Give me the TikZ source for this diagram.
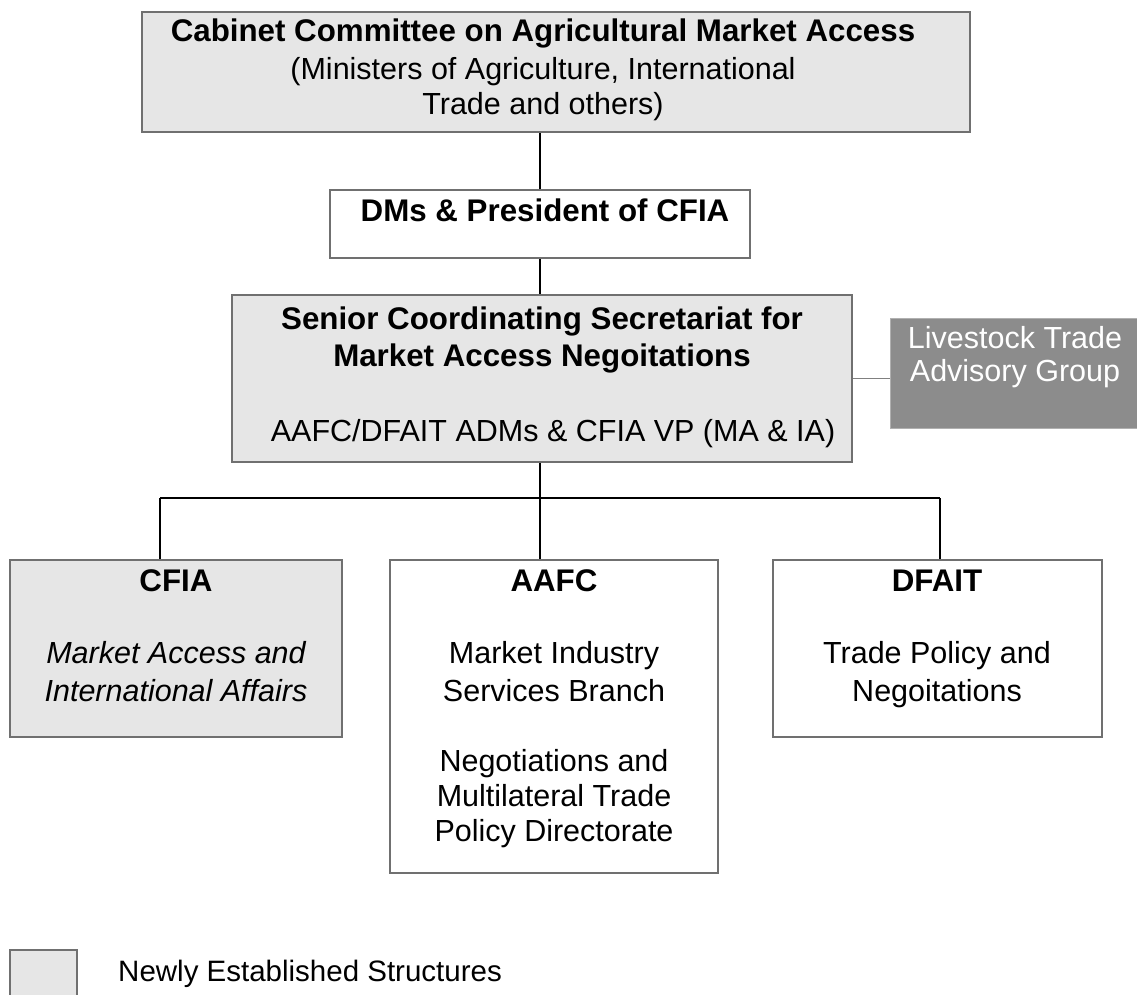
\documentclass[tikz,border=0pt]{standalone}
\usepackage{fontspec}
\setmainfont{Liberation Sans}
\definecolor{newfill}{HTML}{E6E6E6}
\definecolor{boxline}{HTML}{707070}
\definecolor{advfill}{HTML}{8C8C8C}
\definecolor{advline}{HTML}{B0B0B0}
\begin{document}
\begin{tikzpicture}[x=1pt,y=-1pt,
  box/.style={draw=boxline, line width=1.5pt, rectangle, inner sep=0pt},
  newbox/.style={box, fill=newfill},
  plainbox/.style={box, fill=white},
  advbox/.style={rectangle, inner sep=0pt, fill=advfill, draw=advline, line width=1pt},
  txt/.style={anchor=base, inner sep=0pt, font=\fontsize{30.5}{36}\selectfont},
  hd/.style={txt, font=\fontsize{31.3}{36}\selectfont\bfseries},
  it/.style={txt, font=\fontsize{30.5}{36}\selectfont\itshape},
  link/.style={line width=1.6pt, black},
  sidelink/.style={line width=1.5pt, gray}]
\useasboundingbox (0,0) rectangle (1137,994);

% boxes
\node[newbox, minimum width=828pt, minimum height=120pt] (cab) at (556,72) {};
\node[plainbox, minimum width=420pt, minimum height=68pt] (dms) at (540,224) {};
\node[newbox, minimum width=620pt, minimum height=167pt] (sen) at (542,378.5) {};
\node[advbox, minimum width=260pt, minimum height=110pt] (adv) at (1020,373) {};
\node[newbox, minimum width=332pt, minimum height=177pt] (cfia) at (176,648.5) {};
\node[plainbox, minimum width=328pt, minimum height=313pt] (aafc) at (554,716.5) {};
\node[plainbox, minimum width=329pt, minimum height=177pt] (dfait) at (937.5,648.5) {};
\node[newbox, minimum width=67pt, minimum height=50pt] (key) at (43.5,975) {};

% connectors
\draw[link] (dms.north) -- (dms.north |- cab.south);
\draw[link] (dms.south) -- (dms.south |- sen.north);
\coordinate (jm) at (540,498);
\coordinate (jl) at (160,498);
\coordinate (jr) at (940,498);
\draw[link] (jm |- sen.south) -- (jm);
\draw[line width=2.4pt] (jl) -- (jr);
\draw[link] (jl) -- (jl |- cfia.north);
\draw[link] (jm) -- (jm |- aafc.north);
\draw[link] (jr) -- (jr |- dfait.north);
\draw[sidelink] (sen.east) -- (adv.west |- sen.east);

% texts
\node[hd] (cab1) at (543,41) {Cabinet Committee on Agricultural Market Access};
\node[txt] (cab2) at (543,79) {(Ministers of Agriculture, International};
\node[txt] (cab3) at (543,114) {Trade and others)};
\node[hd] (dms1) at (545,221) {DMs \& President of CFIA};
\node[hd] (sen1) at (542,329) {Senior Coordinating Secretariat for};
\node[hd] (sen2) at (542,366) {Market Access Negoitations};
\node[txt] (sen3) at (553,441) {AAFC/DFAIT ADMs \& CFIA VP (MA \& IA)};
\node[txt, text=white] (adv1) at (1015,348) {Livestock Trade};
\node[txt, text=white] (adv2) at (1015,381) {Advisory Group};
\node[hd] (cfia1) at (176,591) {CFIA};
\node[it] (cfia2) at (176,663) {Market Access and};
\node[it] (cfia3) at (176,701) {International Affairs};
\node[hd] (aafc1) at (554,591) {AAFC};
\node[txt] (aafc2) at (554,663) {Market Industry};
\node[txt] (aafc3) at (554,701) {Services Branch};
\node[txt] (aafc4) at (554,771) {Negotiations and};
\node[txt] (aafc5) at (554,806) {Multilateral Trade};
\node[txt] (aafc6) at (554,841) {Policy Directorate};
\node[hd] (dfait1) at (937,591) {DFAIT};
\node[txt] (dfait2) at (937,663) {Trade Policy and};
\node[txt] (dfait3) at (937,701) {Negoitations};
\node[txt, anchor=base west, font=\fontsize{29.5}{36}\selectfont] (keytxt) at (118,981) {Newly Established Structures};
\end{tikzpicture}
\end{document}
